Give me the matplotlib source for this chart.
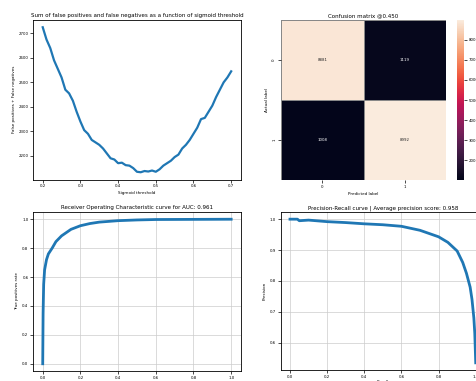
import matplotlib
matplotlib.use("Agg")
import matplotlib.pyplot as plt
import numpy as np
import seaborn as sns

W, H = 477, 381

# sum of FP + FN by sigmoid threshold
thresholds = [0.20, 0.21, 0.22, 0.23, 0.24, 0.25, 0.26, 0.27, 0.28, 0.29,
              0.30, 0.31, 0.32, 0.33, 0.34, 0.35, 0.36, 0.37, 0.38, 0.39,
              0.40, 0.41, 0.42, 0.43, 0.44, 0.45, 0.46, 0.47, 0.48, 0.49,
              0.50, 0.51, 0.52, 0.53, 0.54, 0.55, 0.56, 0.57, 0.58, 0.59,
              0.60, 0.61, 0.62, 0.63, 0.64, 0.65, 0.66, 0.67, 0.68, 0.69, 0.70]
fp_fn = [2725, 2675, 2640, 2590, 2555, 2520, 2470, 2455, 2425, 2380,
         2340, 2305, 2290, 2265, 2255, 2245, 2230, 2210, 2190, 2185,
         2170, 2172, 2162, 2160, 2150, 2135, 2133, 2138, 2136, 2140,
         2135, 2145, 2160, 2170, 2180, 2195, 2205, 2230, 2245, 2265,
         2290, 2315, 2350, 2355, 2380, 2405, 2440, 2470, 2500, 2520, 2545]

# confusion matrix @0.450
conf = [[8881, 1119],
        [1008, 8992]]

# ROC curve
fpr = [0.0, 0.002, 0.005, 0.01, 0.02, 0.03, 0.05, 0.07, 0.10, 0.15,
       0.20, 0.25, 0.30, 0.40, 0.50, 0.60, 0.80, 1.0]
tpr = [0.0, 0.35, 0.55, 0.65, 0.72, 0.76, 0.80, 0.845, 0.885, 0.93,
       0.955, 0.97, 0.98, 0.99, 0.995, 0.998, 0.999, 1.0]

# precision-recall curve
recall = [0.0, 0.04, 0.05, 0.10, 0.20, 0.30, 0.40, 0.50, 0.60, 0.70,
          0.80, 0.85, 0.90, 0.93, 0.95, 0.97, 0.98, 0.99, 0.995, 1.0]
precision = [1.0, 1.0, 0.995, 0.997, 0.992, 0.989, 0.985, 0.982, 0.977, 0.964,
             0.943, 0.925, 0.897, 0.86, 0.825, 0.78, 0.74, 0.68, 0.63, 0.535]

TITLE_FS = 4.0
LABEL_FS = 3.0
TICK_FS = 2.8
BLUE = "#1f77b4"


def px_axes(fig, x0, y0, x1, y1):
    """Add axes from pixel box (top-left origin)."""
    return fig.add_axes([x0 / W, (H - y1) / H, (x1 - x0) / W, (y1 - y0) / H])


def style(ax):
    ax.tick_params(labelsize=TICK_FS, length=2, width=0.5, pad=1.5)
    for s in ax.spines.values():
        s.set_linewidth(0.6)


fig = plt.figure(figsize=(W / 100, H / 100), dpi=100)

# top left
ax1 = px_axes(fig, 33.3, 20, 240.6, 179.5)
ax1.plot(thresholds, fp_fn, color=BLUE, linewidth=1.6)
ax1.set_title("Sum of false positives and false negatives as a function of sigmoid threshold",
              fontsize=TITLE_FS, pad=2)
ax1.set_xlabel("Sigmoid threshold", fontsize=LABEL_FS, labelpad=2)
ax1.set_ylabel("False positives + False negatives", fontsize=LABEL_FS, labelpad=2)
style(ax1)

# top right: confusion matrix
ax2 = px_axes(fig, 281, 20, 446, 180)
cax = px_axes(fig, 457, 20, 464, 180)
sns.heatmap(np.array(conf), annot=True, fmt="d", ax=ax2, cbar_ax=cax,
            annot_kws={"fontsize": TICK_FS}, linewidths=0.4, linecolor="#888888")
ax2.set_title("Confusion matrix @0.450", fontsize=TITLE_FS, pad=2)
ax2.set_xlabel("Predicted label", fontsize=LABEL_FS, labelpad=2)
ax2.set_ylabel("Actual label", fontsize=LABEL_FS, labelpad=2)
ax2.tick_params(labelsize=TICK_FS, length=2, width=0.5, pad=1.5)
ax2.set_yticklabels(ax2.get_yticklabels(), rotation=90, va="center")
cax.tick_params(labelsize=TICK_FS, length=2, width=0.5, pad=1.5)

# bottom left: ROC
ax3 = px_axes(fig, 33.3, 212, 240.6, 371)
ax3.plot(fpr, tpr, color=BLUE, linewidth=2.0)
ax3.set_title("Receiver Operating Characteristic curve for AUC: 0.961",
              fontsize=TITLE_FS, pad=2)
ax3.set_xlabel("False positives rate", fontsize=LABEL_FS, labelpad=1)
ax3.set_ylabel("True positives rate", fontsize=LABEL_FS, labelpad=2)
ax3.grid(True, linewidth=0.5, color="#cccccc")
style(ax3)

# bottom right: PR
ax4 = px_axes(fig, 280.7, 212, 485, 370)
ax4.plot(recall, precision, color=BLUE, linewidth=2.0)
ax4.set_title("Precision-Recall curve | Average precision score: 0.958",
              fontsize=TITLE_FS, pad=2)
ax4.set_xlabel("Recall", fontsize=LABEL_FS, labelpad=1)
ax4.set_ylabel("Precision", fontsize=LABEL_FS, labelpad=2)
ax4.grid(True, linewidth=0.5, color="#cccccc")
style(ax4)

fig.savefig("out.png", dpi=100)
